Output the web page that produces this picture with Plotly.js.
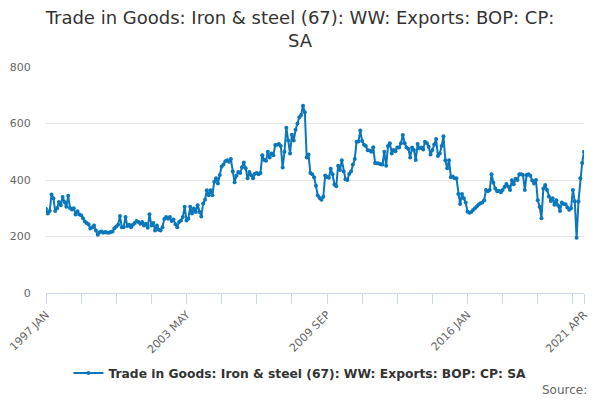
<!DOCTYPE html>
<html>
<head>
<meta charset="utf-8">
<script src="https://cdn.plot.ly/plotly-3.0.1.min.js"></script>
<style>html,body{margin:0;padding:0;background:#fff;}#chart{width:600px;height:400px;}</style>
</head>
<body>
<div id="chart"></div>
<script>
const seriesName = "Trade in Goods: Iron & steel (67): WW: Exports: BOP: CP: SA";
const startYear = 1997;
const monthNames = ["JAN","FEB","MAR","APR","MAY","JUN","JUL","AUG","SEP","OCT","NOV","DEC"];
const values = [
297,281,290,349,335,290,300,322,311,340,322,305,
344,301,296,300,278,289,278,275,265,253,248,243,
228,233,239,221,206,215,218,213,216,214,213,216,
218,229,235,242,273,233,233,269,237,242,233,242,
248,255,251,245,251,239,245,231,279,239,248,221,
239,224,221,233,262,269,263,269,255,260,243,233,
251,257,269,305,257,263,305,281,299,287,311,287,
271,317,330,364,346,364,346,394,406,388,418,448,
455,466,470,465,474,430,392,415,428,425,445,462,
442,406,428,417,406,422,425,420,425,488,471,468,
500,480,494,488,524,525,527,520,444,500,585,540,
494,560,540,578,600,622,630,663,640,480,490,425,
420,410,380,345,336,330,341,416,411,408,440,420,
384,378,450,435,470,430,403,400,421,430,455,474,
535,536,575,538,525,520,505,504,500,516,460,459,
458,456,455,500,450,520,530,494,506,502,515,515,
530,559,530,515,510,480,515,506,471,527,512,515,
508,535,530,518,490,506,526,545,485,494,520,555,
470,442,470,410,412,406,406,350,315,350,335,320,
288,284,287,294,300,306,313,318,320,328,365,360,
365,420,390,370,360,362,357,365,375,386,377,365,
399,385,404,400,420,420,418,365,418,420,415,398,
388,400,328,305,265,370,382,365,342,326,335,312,
328,310,290,320,315,314,303,295,300,365,325,196,
324,406,460,500
];
const months = values.map((v, i) => (startYear + Math.floor(i / 12)) + " " + monthNames[i % 12]);
const tickIdx = [];
for (let i = 0; i < months.length; i += 19) tickIdx.push(i);
tickIdx.push(months.length - 1);
const labelIdx = [0, 76, 152, 228, months.length - 1];
const tickVals = tickIdx.map(i => months[i]);
const tickText = tickIdx.map(i => labelIdx.includes(i) ? months[i] : "");
const yTicks = [0, 200, 400, 600, 800];

const font = "DejaVu Sans, Verdana, sans-serif";
const trace = {
  type: "scatter", mode: "lines+markers",
  x: months, y: values, name: seriesName,
  line: {color: "#0a77bb", width: 2},
  marker: {color: "#0a77bb", size: 4}
};
const layout = {
  width: 600, height: 400,
  margin: {l: 46, r: 16, t: 67, b: 107},
  paper_bgcolor: "#fff", plot_bgcolor: "#fff",
  font: {family: font, color: "#666"},
  title: {text: seriesName.replace(" SA", "<br>SA"), x: 0.5, xanchor: "center", y: 0.94, yref: "container", yanchor: "top",
    font: {family: font, size: 18, color: "#333"}},
  xaxis: {type: "category", range: [0, months.length - 1], tickmode: "array", tickvals: tickVals, ticktext: tickText,
    tickangle: -45, ticks: "outside", ticklen: 10, tickcolor: "#ccd6eb", showline: true, linecolor: "#ccd6eb",
    showgrid: false, zeroline: false, tickfont: {size: 11, color: "#666"}},
  yaxis: {range: [0, 800], tickmode: "array", tickvals: yTicks, ticks: "outside", ticklen: 12, tickcolor: "rgba(0,0,0,0)",
    showgrid: true, gridcolor: "#e6e6e6", zeroline: false, showline: false, tickfont: {size: 11, color: "#666"}},
  showlegend: true,
  legend: {orientation: "h", x: 0.472, xanchor: "center", y: -0.354, yanchor: "middle",
    font: {family: font, size: 12.3, color: "#333", weight: "bold"}},
  annotations: [{text: "Source:", xref: "paper", yref: "paper", x: 1.009, y: -0.43, xanchor: "right", yanchor: "middle",
    showarrow: false, font: {family: font, size: 12, color: "#666"}}]
};
Plotly.newPlot("chart", [trace], layout, {displayModeBar: false, staticPlot: true});
</script>
</body>
</html>
